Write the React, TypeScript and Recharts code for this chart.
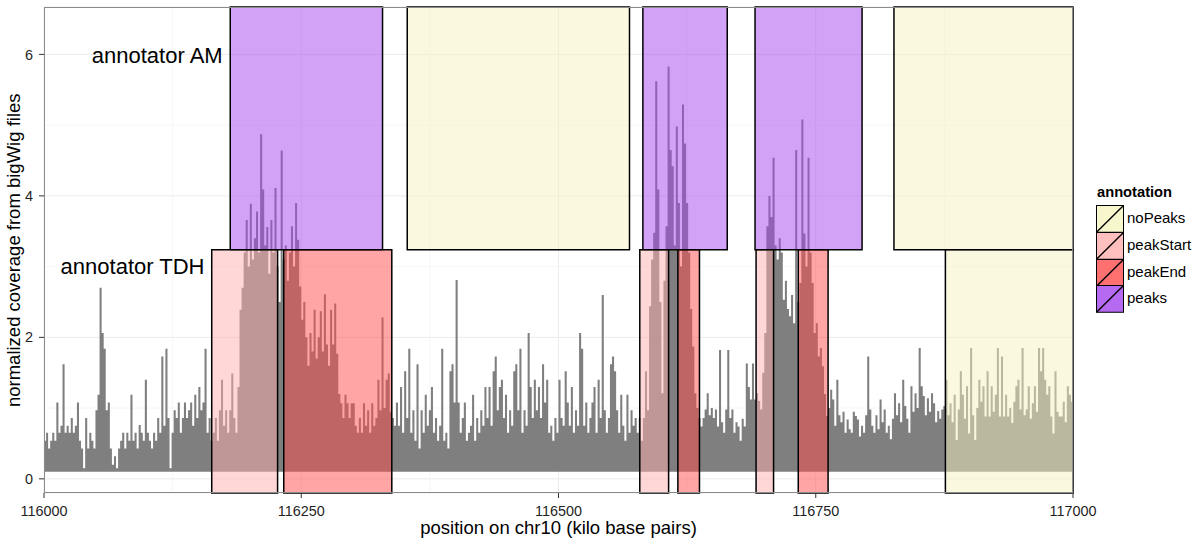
import React from "react";
import {
  ComposedChart,
  Area,
  XAxis,
  YAxis,
  CartesianGrid,
  ReferenceArea,
  ReferenceLine,
} from "recharts";

const FONT = '"Liberation Sans", Arial, Helvetica, sans-serif';

// normalized coverage, one value per 2 kbp bin
const BIN_START = 116000;
const BIN_WIDTH = 2;
const COVERAGE_FLOOR = 0.1;

const cov116000 = [
  0.54, 0.65, 0.43, 0.54, 0.65, 0.54, 1.08, 0.65, 0.75, 1.62, 0.65, 0.75, 0.65, 0.86, 0.65, 0.75, 1.08, 0.54, 0.43, 0.15, 0.86, 0.43, 0.65, 0.54, 0.43,
  0.97, 1.19, 2.7, 2.06, 1.84, 0.97, 1.08, 0.43, 0.2, 0.32, 0.15, 0.43, 0.54, 0.65, 0.43, 0.65, 0.54, 1.19, 0.54, 0.65, 0.43, 0.76, 0.65, 0.54, 1.4,
];
const cov116100 = [
  0.65, 0.54, 0.43, 0.65, 0.54, 0.86, 0.65, 1.73, 0.75, 1.84, 0.86, 0.15, 0.65, 0.97, 0.86, 1.08, 0.65, 0.86, 1.08, 0.86, 0.97, 1.08, 0.75, 1.19, 0.86,
  1.3, 0.97, 1.08, 1.84, 0.65, 0.86, 0.54, 0.65, 0.86, 0.54, 0.97, 1.4, 0.75, 0.97, 0.65, 0.97, 1.49, 0.86, 0.65, 1.3, 2.39, 2.7, 3.2, 3.66, 3.0,
];
const cov116200 = [
  3.89, 3.1, 3.4, 3.78, 3.2, 4.87, 4.09, 3.3, 3.56, 2.9, 3.66, 3.2, 4.11, 3.0, 2.5, 4.64, 3.1, 3.3, 2.8, 3.2, 3.57, 3.0, 3.9, 3.38, 2.72,
  2.25, 2.5, 2.0, 1.6, 2.06, 1.8, 2.39, 1.7, 2.0, 2.37, 1.8, 2.61, 1.9, 1.6, 2.39, 1.9, 2.48, 1.77, 1.2, 1.07, 0.86, 1.19, 1.07, 0.86, 1.07,
];
const cov116300 = [
  1.07, 0.75, 0.65, 0.86, 0.65, 1.07, 0.75, 0.97, 0.65, 1.07, 0.75, 0.86, 1.4, 0.97, 2.28, 1.0, 1.4, 1.49, 0.95, 0.86, 0.75, 1.08, 0.75, 1.3, 0.65,
  1.52, 0.86, 1.84, 0.65, 0.97, 0.54, 1.62, 0.43, 0.97, 0.65, 1.19, 0.75, 0.97, 1.3, 0.65, 0.86, 0.54, 0.75, 1.84, 0.54, 0.65, 0.43, 1.52, 1.62, 1.08,
];
const cov116400 = [
  2.81, 1.08, 0.65, 0.86, 1.08, 0.54, 0.65, 0.75, 1.19, 0.54, 0.86, 0.65, 0.97, 0.75, 1.3, 0.86, 1.3, 0.75, 1.52, 1.73, 0.97, 1.3, 1.4, 0.86, 1.19,
  0.65, 0.97, 0.75, 1.52, 1.62, 0.97, 1.84, 0.65, 0.97, 0.75, 2.06, 1.3, 0.86, 1.4, 0.97, 1.3, 0.86, 1.62, 1.08, 1.4, 0.65, 0.75, 0.54, 0.86, 0.65,
];
const cov116500 = [
  1.4, 0.86, 0.75, 1.52, 1.08, 0.75, 1.3, 0.65, 0.97, 0.75, 2.06, 1.84, 0.75, 1.08, 0.65, 0.86, 1.08, 1.3, 0.65, 1.4, 0.86, 2.6, 0.97, 0.65, 0.86,
  1.62, 1.73, 1.52, 0.97, 0.65, 1.19, 0.75, 0.54, 1.19, 0.65, 0.97, 0.75, 0.86, 0.65, 0.86, 0.54, 0.86, 1.52, 0.97, 2.44, 3.1, 3.48, 5.62, 4.09, 2.5,
];
const cov116600 = [
  1.21, 2.8, 3.57, 5.83, 4.65, 4.42, 3.3, 4.98, 3.9, 3.0, 5.29, 4.74, 3.9, 3.2, 2.4, 1.87, 1.21, 1.0, 0.86, 0.74, 0.86, 0.98, 1.21, 0.9, 1.0,
  0.86, 0.98, 0.74, 1.82, 0.8, 0.65, 0.98, 1.82, 0.86, 0.98, 0.65, 0.8, 0.74, 0.54, 0.85, 0.74, 1.63, 1.3, 1.12, 1.63, 1.12, 1.21, 1.1, 0.98, 1.5,
];
const cov116700 = [
  2.06, 3.57, 4.0, 3.7, 4.54, 3.3, 3.1, 3.4, 3.2, 2.53, 2.8, 2.4, 2.3, 2.6, 2.2, 4.65, 2.5, 2.77, 5.08, 3.47, 3.0, 4.54, 3.2, 2.77, 2.06,
  2.2, 1.73, 1.85, 1.59, 1.2, 0.89, 1.0, 1.26, 1.12, 0.75, 1.4, 0.9, 0.8, 0.95, 0.65, 0.84, 0.7, 0.65, 0.95, 0.89, 0.84, 0.6, 0.75, 0.65, 0.9,
];
const cov116800 = [
  1.73, 0.98, 0.75, 0.65, 0.9, 0.7, 1.12, 0.8, 0.98, 0.65, 0.75, 0.56, 0.85, 1.21, 0.9, 1.07, 0.8, 1.4, 1.03, 0.85, 0.65, 1.31, 0.95, 1.21, 1.0,
  1.85, 1.31, 1.17, 0.9, 1.14, 0.95, 1.21, 1.07, 0.8, 0.96, 0.85, 0.98, 1.03, 1.4, 0.9, 1.07, 0.8, 1.19, 0.55, 0.98, 1.52, 1.19, 0.85, 1.31, 0.64,
];
const cov116900 = [
  1.85, 0.9, 0.55, 1.0, 1.4, 1.09, 1.31, 0.88, 1.52, 0.88, 1.31, 0.95, 1.19, 1.85, 0.88, 1.73, 0.88, 1.19, 0.88, 1.0, 0.79, 1.09, 1.31, 1.4, 0.98,
  1.85, 0.9, 0.98, 1.31, 0.85, 1.07, 1.31, 0.95, 1.85, 1.52, 1.85, 1.4, 1.19, 1.31, 0.88, 0.64, 1.52, 0.95, 0.88, 0.88, 1.09, 0.8, 1.31, 1.19, 1.09,
  1.02,
];

const COVERAGE = [
  ...cov116000, ...cov116100, ...cov116200, ...cov116300, ...cov116400,
  ...cov116500, ...cov116600, ...cov116700, ...cov116800, ...cov116900,
];

const X_TICKS = [116000, 116250, 116500, 116750, 117000];
const X_MINOR = [116125, 116375, 116625, 116875];
const Y_TICKS = [0, 2, 4, 6];
const Y_MINOR = [1, 3, 5];
const Y_MIN = -0.2;
const Y_MAX = 6.67;

const ANN_COLORS: Record<string, string> = {
  noPeaks: "#f6f4bf",
  peakStart: "#ffafaf",
  peakEnd: "#ff4c4c",
  peaks: "#a445ee",
};
const LEGEND_ORDER = ["noPeaks", "peakStart", "peakEnd", "peaks"];

// annotator rows split at this height
const ROW_SPLIT = 3.24;

const AM_REGIONS = [
  { start: 116181, end: 116329, annotation: "peaks" },
  { start: 116353, end: 116569, annotation: "noPeaks" },
  { start: 116582, end: 116664, annotation: "peaks" },
  { start: 116691, end: 116795, annotation: "peaks" },
  { start: 116826, end: 117000, annotation: "noPeaks" },
];

const TDH_REGIONS = [
  { start: 116163, end: 116227, annotation: "peakStart" },
  { start: 116233, end: 116338, annotation: "peakEnd" },
  { start: 116579, end: 116607, annotation: "peakStart" },
  { start: 116616, end: 116637, annotation: "peakEnd" },
  { start: 116692, end: 116709, annotation: "peakStart" },
  { start: 116733, end: 116762, annotation: "peakEnd" },
  { start: 116876, end: 117000, annotation: "noPeaks" },
];

const data = COVERAGE.map((v, i) => ({ pos: BIN_START + i * BIN_WIDTH, cov: v }));

const W = 1198;
const H = 542;

export default function App() {
  const rowH = 26.75;
  return (
    <div
      style={{
        position: "absolute",
        left: 0,
        top: 0,
        width: W,
        height: H,
        background: "#fff",
        fontFamily: FONT,
        color: "#000",
      }}
    >
      <ComposedChart
        width={W}
        height={H}
        data={data}
        margin={{ top: 7, right: 125, bottom: 0, left: 0 }}
      >
        <CartesianGrid stroke="#ebebeb" />
        {X_MINOR.map((x) => (
          <ReferenceLine key={"vx" + x} x={x} stroke="#f6f6f6" zIndex={-100} />
        ))}
        {Y_MINOR.map((y) => (
          <ReferenceLine key={"hy" + y} y={y} stroke="#f6f6f6" zIndex={-100} />
        ))}
        <XAxis
          dataKey="pos"
          type="number"
          domain={[116000, 117000]}
          ticks={X_TICKS}
          allowDataOverflow
          height={49}
          tickSize={5}
          tickMargin={8}
          axisLine={false}
          tickLine={{ stroke: "#333" }}
          tick={{ fontSize: 14.4, fill: "#1f1f1f", fontFamily: FONT }}
        />
        <YAxis
          type="number"
          domain={[Y_MIN, Y_MAX]}
          ticks={Y_TICKS}
          allowDataOverflow
          width={44}
          tickSize={5}
          tickMargin={6}
          axisLine={false}
          tickLine={{ stroke: "#333" }}
          tick={{ fontSize: 14.4, fill: "#1f1f1f", fontFamily: FONT }}
        />
        <Area
          type="stepAfter"
          dataKey={(d: any) => [COVERAGE_FLOOR, d.cov]}
          fill="#7f7f7f"
          fillOpacity={1}
          stroke="none"
          dot={false}
          activeDot={false}
          isAnimationActive={false}
        />
        {AM_REGIONS.map((r) => (
          <ReferenceArea
            key={"am" + r.start}
            x1={r.start}
            x2={r.end}
            y1={ROW_SPLIT}
            y2={Y_MAX}
            fill={ANN_COLORS[r.annotation]}
            fillOpacity={0.5}
            stroke="#000"
            strokeWidth={1.5}
          />
        ))}
        {TDH_REGIONS.map((r) => (
          <ReferenceArea
            key={"tdh" + r.start}
            x1={r.start}
            x2={r.end}
            y1={Y_MIN}
            y2={ROW_SPLIT}
            fill={ANN_COLORS[r.annotation]}
            fillOpacity={0.5}
            stroke="#000"
            strokeWidth={1.5}
          />
        ))}
      </ComposedChart>

      {/* panel border */}
      <div
        style={{
          position: "absolute",
          left: 44,
          top: 7,
          width: 1029,
          height: 486,
          border: "1px solid #8c8c8c",
          boxSizing: "border-box",
          pointerEvents: "none",
        }}
      />

      {/* annotator labels */}
      <div
        style={{
          position: "absolute",
          left: 0,
          width: 222.7,
          top: 44.7,
          textAlign: "right",
          fontSize: 22,
          lineHeight: "22px",
          whiteSpace: "nowrap",
        }}
      >
        annotator AM
      </div>
      <div
        style={{
          position: "absolute",
          left: 0,
          width: 204.5,
          top: 256.4,
          textAlign: "right",
          fontSize: 22,
          lineHeight: "22px",
          whiteSpace: "nowrap",
        }}
      >
        annotator TDH
      </div>

      {/* axis titles */}
      <div
        style={{
          position: "absolute",
          left: 44,
          width: 1029,
          top: 519.3,
          textAlign: "center",
          fontSize: 18.5,
          lineHeight: "18.5px",
          whiteSpace: "nowrap",
        }}
      >
        position on chr10 (kilo base pairs)
      </div>
      <div
        style={{
          position: "absolute",
          left: 13.6 - 200,
          width: 400,
          top: 250 - 9.25,
          height: 18.5,
          textAlign: "center",
          fontSize: 18.5,
          lineHeight: "18.5px",
          whiteSpace: "nowrap",
          transform: "rotate(-90deg)",
        }}
      >
        normalized coverage from bigWig files
      </div>

      {/* legend */}
      <div
        style={{
          position: "absolute",
          left: 1097,
          top: 184.9,
          fontSize: 14.7,
          lineHeight: "14.7px",
          fontWeight: "bold",
          whiteSpace: "nowrap",
        }}
      >
        annotation
      </div>
      <div style={{ position: "absolute", left: 1096, top: 205 }}>
        {LEGEND_ORDER.map((name) => (
          <div
            key={name}
            style={{
              display: "flex",
              height: rowH,
              lineHeight: rowH + "px",
              fontSize: 15,
              whiteSpace: "nowrap",
            }}
          >
            <svg width={28} height={rowH + 1} style={{ display: "block" }}>
              <rect x={0.5} y={0.5} width={27} height={rowH} fill="#fff" />
              <rect
                x={0.5}
                y={0.5}
                width={27}
                height={rowH}
                fill={ANN_COLORS[name]}
                fillOpacity={0.8}
                stroke="#000"
                strokeWidth={1}
              />
              <line x1={0.5} y1={rowH + 0.5} x2={27.5} y2={0.5} stroke="#000" strokeWidth={1.4} />
            </svg>
            <span style={{ marginLeft: 3 }}>{name}</span>
          </div>
        ))}
      </div>
    </div>
  );
}
